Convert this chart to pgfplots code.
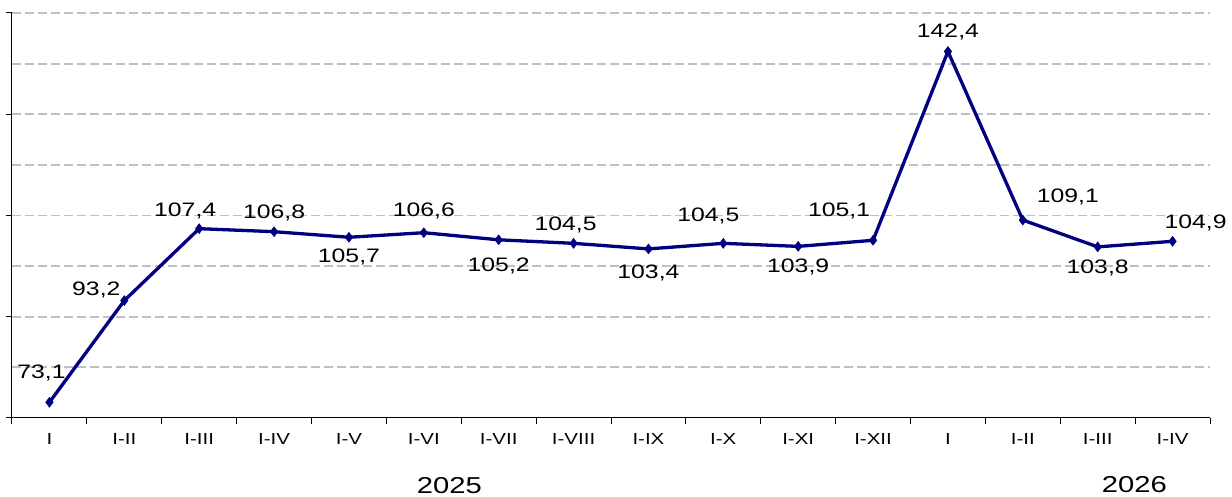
\documentclass[border=0pt]{standalone}
\usepackage{pgfplots}
\usepackage{pgfplotstable}
\pgfplotsset{compat=1.18}
\usepackage{fontspec}
\setmainfont{Liberation Sans}
\definecolor{navy}{RGB}{0,0,128}
\definecolor{gridgray}{RGB}{192,192,192}
\pgfplotstableread{
x y dx dy
0 73.1 -8 29
1 93.2 -28 11
2 107.4 -14 18
3 106.8 0 19
4 105.7 0 -20
5 106.6 0 22
6 105.2 0 -26
7 104.5 -8 18
8 103.4 0 -24
9 104.5 -15 27
10 103.9 0 -21
11 105.1 -34 29
12 142.4 0 20
13 109.1 45 23
14 103.8 0 -21
15 104.9 23 18
}\datatable
\begin{document}
\begin{tikzpicture}
\useasboundingbox (0pt,0pt) rectangle (1232pt,497pt);
\begin{axis}[
  at={(12pt,79pt)}, anchor=south west,
  scale only axis, width=1198pt, height=405pt,
  clip=false,
  xmin=-0.5, xmax=15.5, ymin=70, ymax=150,
  axis lines*=left,
  axis line style={black, line width=1pt},
  tick align=outside,
  xtick={0,...,15},
  xticklabels={I,I-II,I-III,I-IV,I-V,I-VI,I-VII,I-VIII,I-IX,I-X,I-XI,I-XII,I,I-II,I-III,I-IV},
  major x tick style={draw=none},
  minor xtick={-0.5,0.5,...,15.5},
  minor x tick style={black, line width=1pt},
  minor tick length=6pt,
  major tick length=6pt,
  xticklabel style={font=\fontsize{16}{19}\selectfont, xscale=1.28, yshift=-6pt},
  ytick={90,110,130,150},
  minor ytick={80,100,120,140},
  minor y tick style={draw=none},
  major y tick style={black, line width=1pt},
  yticklabels={},
  extra y ticks={70},
  extra y tick labels={},
  extra y tick style={grid=none},
  ymajorgrids, yminorgrids,
  major y grid style={gridgray, line width=1.8pt, dash pattern=on 9pt off 4pt},
  minor y grid style={gridgray, line width=1.8pt, dash pattern=on 9pt off 4pt},
]
\addplot[navy, line width=3.3pt, line join=round,
  mark=diamond*, mark size=5pt, mark options={solid, line width=0.5pt, fill=navy},
  visualization depends on={\thisrow{dx} \as \dx},
  visualization depends on={\thisrow{dy} \as \dy},
  nodes near coords={\pgfmathprintnumber[fixed, fixed zerofill, precision=1, use comma, assume math mode=true]{\pgfplotspointmeta}},
  every node near coord/.append style={anchor=center, xshift=\dx pt, yshift=\dy pt, text=black, xscale=1.27, font=\fontsize{19.5}{23}\selectfont},
] table[x=x, y=y] {\datatable};
\node[font=\fontsize{23}{27}\selectfont, xscale=1.27] at (axis cs:5.34,56.7) {2025};
\node[font=\fontsize{23}{27}\selectfont, xscale=1.27] at (axis cs:14.49,56.9) {2026};
\end{axis}
\end{tikzpicture}
\end{document}
